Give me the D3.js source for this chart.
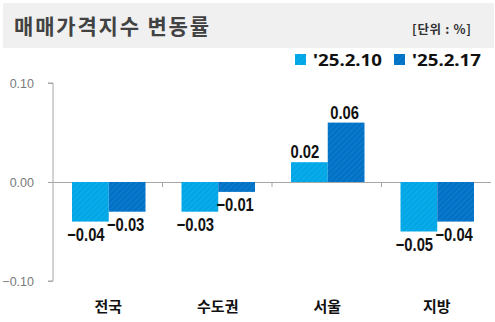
<!DOCTYPE html>
<html>
<head>
<meta charset="utf-8">
<script src="https://cdn.jsdelivr.net/npm/d3@7"></script>
<style>
  html, body { margin: 0; padding: 0; background: #fff; }
  svg { display: block; }
</style>
</head>
<body>
<svg id="chart" width="495" height="322"></svg>
<script>
// Weekly change of the sales price index (%)
const categories = ["전국", "수도권", "서울", "지방"];
const seriesNames = ["'25.2.10", "'25.2.17"];
const week1 = [-0.04, -0.03, 0.02, -0.05];
const week2 = [-0.03, -0.01, 0.06, -0.04];
const yTicks = [0.10, 0.00, -0.10];
const seriesColors = ["#00a6e6", "#0071c6"];
const stripeColors = ["#13aee9", "#137dcc"];

const svg = d3.select("#chart");

// header band
svg.append("rect").attr("x", 3).attr("y", 3).attr("width", 491).attr("height", 45).attr("fill", "#f0f0f0");
svg.append("text").attr("x", 14).attr("y", 34)
  .attr("font-family", "'Noto Sans CJK KR', sans-serif").attr("font-weight", 700)
  .attr("font-size", 21).attr("fill", "#424242")
  .attr("textLength", 195).attr("lengthAdjust", "spacing")
  .text("매매가격지수 변동률");
svg.append("text").attr("x", 471).attr("y", 34).attr("text-anchor", "end")
  .attr("font-family", "'Noto Sans CJK KR', sans-serif").attr("font-weight", 700)
  .attr("font-size", 12.5).attr("fill", "#333")
  .attr("textLength", 59).attr("lengthAdjust", "spacing")
  .text("[단위 : %]");

// diagonal stripe fills
const defs = svg.append("defs");
seriesColors.forEach((c, i) => {
  const p = defs.append("pattern").attr("id", "stripe" + i)
    .attr("patternUnits", "userSpaceOnUse").attr("width", 4).attr("height", 4)
    .attr("patternTransform", "rotate(45)");
  p.append("rect").attr("width", 4).attr("height", 4).attr("fill", c);
  p.append("rect").attr("width", 1.2).attr("height", 4).attr("fill", stripeColors[i]);
});

// legend
const legend = svg.append("g");
const legendX = [295, 394];
seriesNames.forEach((n, i) => {
  legend.append("rect").attr("x", legendX[i]).attr("y", 54).attr("width", 11).attr("height", 11)
    .attr("fill", `url(#stripe${i})`);
  legend.append("text").attr("x", legendX[i] + 18).attr("y", 66)
    .attr("font-family", "'Noto Sans', 'DejaVu Sans', sans-serif").attr("font-weight", 700)
    .attr("font-size", 16.5).attr("fill", "#111")
    .attr("textLength", 69).attr("lengthAdjust", "spacingAndGlyphs")
    .text(n);
});

// scales
const x0 = d3.scaleBand().domain(categories).range([53, 491]).paddingInner(0).paddingOuter(0);
const x1 = d3.scaleBand().domain([0, 1]).range([19, x0.bandwidth() - 17]).padding(0);
const y = d3.scaleLinear().domain([-0.10, 0.10]).range([281, 83]);

// y axis
const yAxis = svg.append("g").attr("transform", "translate(53,0)")
  .call(d3.axisLeft(y).tickValues(yTicks).tickFormat(d3.format(".2f")).tickSize(5).tickPadding(14));
yAxis.select(".domain").attr("stroke", "#a6a6a6").attr("d", `M-5,${y(0.10)}H0V${y(-0.10)}H-5`);
yAxis.selectAll(".tick line").attr("stroke", "#a6a6a6");
yAxis.selectAll(".tick text").attr("fill", "#7a7a7a").attr("font-size", 12.5)
  .attr("font-family", "'Liberation Sans', Arial, sans-serif");

// zero baseline with category separators
const xAxis = svg.append("g").attr("transform", `translate(0,${y(0)})`)
  .call(d3.axisBottom(x0).tickValues([]).tickSizeOuter(0));
xAxis.select(".domain").attr("stroke", "#a6a6a6").attr("d", `M48,0.5H491`);
const seps = [1, 2, 3].map(i => x0.range()[0] + i * x0.bandwidth());
svg.selectAll(".sep").data(seps).enter().append("line")
  .attr("x1", d => d).attr("x2", d => d).attr("y1", y(0)).attr("y2", y(0) + 5)
  .attr("stroke", "#a6a6a6");

// category labels
svg.selectAll(".cat").data(categories).enter().append("text")
  .attr("x", d => x0(d) + x0.bandwidth() / 2 + 0.5).attr("y", 312)
  .attr("text-anchor", "middle")
  .attr("font-family", "'Noto Sans CJK KR', sans-serif").attr("font-weight", 700)
  .attr("font-size", 15).attr("fill", "#111").text(d => d);

// bars
const rows = categories.map((c, i) => ({ c, vals: [week1[i], week2[i]] }));
const groups = svg.selectAll(".grp").data(rows).enter().append("g")
  .attr("transform", d => `translate(${x0(d.c)},0)`);
groups.selectAll("rect").data(d => d.vals.map((v, k) => ({ v, k }))).enter().append("rect")
  .attr("x", d => x1(d.k)).attr("width", x1.bandwidth())
  .attr("y", d => y(Math.max(0, d.v))).attr("height", d => Math.abs(y(d.v) - y(0)))
  .attr("fill", d => `url(#stripe${d.k})`);

// value labels (condensed bold numerals)
const fmt = v => (v < 0 ? "\u2212" : "") + d3.format(".2f")(Math.abs(v));
const labelShift = [-4.5, -1.5];
groups.selectAll("text").data(d => d.vals.map((v, k) => ({ v, k }))).enter().append("text")
  .attr("transform", d => {
    const cx = x1(d.k) + x1.bandwidth() / 2 + labelShift[d.k];
    const cy = d.v >= 0 ? y(d.v) - 4 : y(d.v) + 19.5;
    return `translate(${cx},${cy}) scale(0.8,1)`;
  })
  .attr("text-anchor", "middle")
  .attr("font-family", "'Liberation Sans', Arial, sans-serif")
  .attr("font-weight", 700).attr("font-size", 18.5).attr("fill", "#111")
  .text(d => fmt(d.v));
</script>
</body>
</html>
